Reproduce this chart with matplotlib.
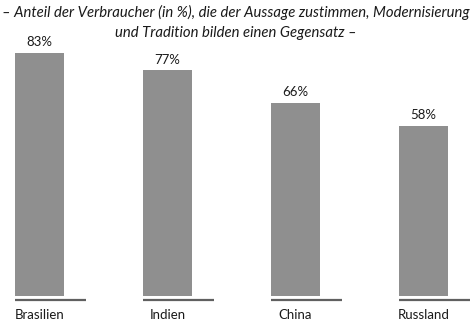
import matplotlib
matplotlib.use("Agg")
import matplotlib.pyplot as plt

categories = ["Brasilien", "Indien", "China", "Russland"]
values = [83, 77, 66, 58]
value_labels = ["83%", "77%", "66%", "58%"]
title_lines = ["– Anteil der Verbraucher (in %), die der Aussage zustimmen, Modernisierung",
               "und Tradition bilden einen Gegensatz –"]

plt.rcParams['font.family'] = ['Lato', 'DejaVu Sans']

W, H = 472, 322
fig = plt.figure(figsize=(W / 100, H / 100), dpi=100)
ax = fig.add_axes([0, 0, 1, 1])
ax.set_axis_off()

step = 128.0
bar_w = 49 / step
seg_w = 71 / step
x0 = -15 / step
ax.set_xlim(x0, x0 + W / step)
ppu = 2.93
ax.set_ylim(-(H - 296) / ppu, 296 / ppu)

xs = list(range(len(categories)))
ax.bar(xs, values, width=bar_w, align='edge', color='#8f8f8f', edgecolor='none')
ax.hlines([-4 / ppu] * len(xs), xs, [x + seg_w for x in xs], colors='#606060', linewidth=1.6)

for x, v, lab, cat in zip(xs, values, value_labels, categories):
    ax.annotate(lab, (x + bar_w / 2, v), xytext=(0, 3.5), textcoords='offset points',
                ha='center', va='bottom', fontsize=9.5, color='#1a1a1a')
    ax.annotate(cat, (x + bar_w / 2, -4 / ppu), xytext=(0, -6.5), textcoords='offset points',
                ha='center', va='top', fontsize=9.5, color='#1a1a1a')

fig.text(0.5, 1 - 12 / H, title_lines[0], ha='center', va='center', fontsize=10.7,
         style='italic', color='#1a1a1a')
fig.text(0.5, 1 - 33 / H, title_lines[1], ha='center', va='center', fontsize=10.7,
         style='italic', color='#1a1a1a')

fig.savefig("out.png", dpi=100)
